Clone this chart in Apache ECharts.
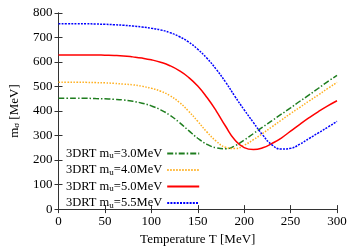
<!DOCTYPE html>
<html>
<head>
<meta charset="utf-8">
<script src="https://cdn.jsdelivr.net/npm/echarts@6/dist/echarts.min.js"></script>
<style>html,body{margin:0;padding:0;background:#fff}#c{width:358px;height:251px}</style>
</head>
<body>
<div id="c"></div>
<script>
const temps = [0,10,20,30,40,50,60,70,80,90,100,110,120,130,140,150,160,170,180,190,200,210,220,230,240,250,260,270,280,290,300];
const mu30 = [452,452,452,452,451,450,448,445,440,432,421,405,383,354,321,289,264,250,246,258,282,308,335,361,387,413,440,466,493,520,546];
const mu40 = [518,518,518,517,516,515,513,510,507,501,493,481,463,436,400,358,314,277,252,247,261,283,309,336,363,390,415,441,466,492,517];
const mu50 = [629,629,629,629,629,628,627,625,621,616,609,599,585,565,538,502,455,400,338,282,251,243,250,268,290,318,346,373,398,421,442];
const mu55 = [756,756,756,756,755,754,752,750,747,743,738,731,720,704,682,652,615,570,518,460,405,353,302,262,245,248,265,288,311,334,358];
const seriesNames = ['3DRT m_u=3.0MeV','3DRT m_u=4.0MeV','3DRT m_u=5.0MeV','3DRT m_u=5.5MeV'];
const xTicks = [0,50,100,150,200,250,300];
const yTicks = [0,100,200,300,400,500,600,700,800];

const serif = 'Liberation Serif';
const colors = ['#1e7d1e','#ffb020','#ff0000','#0000ff'];
const dashes = [[6,2,1.5,2],[1.5,1.5],'solid',[2,1.2]];
const vals = [mu30,mu40,mu50,mu55];

const chart = echarts.init(document.getElementById('c'), null, {renderer:'canvas'});
const axisCommon = {
  axisLine:{show:true,lineStyle:{color:'#333',width:1}},
  axisTick:{show:true,inside:true,length:4,lineStyle:{color:'#333'}},
  splitLine:{show:false}
};
chart.setOption({
  animation:false,
  grid:{left:57,right:21,top:13,bottom:38,containLabel:false},
  xAxis:[
    Object.assign({type:'value',min:0,max:300,interval:50,position:'bottom',
      name:'Temperature T [MeV]',nameLocation:'middle',nameGap:22,
      nameTextStyle:{fontFamily:serif,fontSize:13,color:'#000'},
      axisLabel:{fontFamily:serif,fontSize:13,color:'#000',margin:6}},axisCommon),
    Object.assign({type:'value',min:0,max:300,interval:50,position:'top',axisLabel:{show:false}},axisCommon)
  ],
  yAxis:[
    Object.assign({type:'value',min:0,max:800,interval:100,position:'left',
      name:'{m|m}{s|σ} [MeV]',nameLocation:'middle',nameGap:37,nameRotate:90,
      nameTextStyle:{fontFamily:serif,fontSize:13,color:'#000',
        rich:{m:{fontFamily:serif,fontSize:13,color:'#000'},s:{fontFamily:serif,fontSize:9,color:'#000',verticalAlign:'bottom',padding:[5,0,0,0]}}},
      axisLabel:{fontFamily:serif,fontSize:13,color:'#000',margin:6}},axisCommon),
    Object.assign({type:'value',min:0,max:800,interval:100,position:'right',axisLabel:{show:false}},axisCommon)
  ],
  legend:{
    orient:'vertical',left:61,top:142,align:'right',itemWidth:32,itemHeight:14,itemGap:3,
    data:seriesNames,
    itemStyle:{opacity:0},
    formatter:function(n){const p=n.split('m_u=');return p[0]+'m{s|u}='+p[1];},
    textStyle:{fontFamily:serif,fontSize:12.5,color:'#000',
      rich:{s:{fontFamily:serif,fontSize:9,color:'#000',verticalAlign:'bottom',padding:[5,0,0,0]}}}
  },
  series:vals.map((v,i)=>({
    name:seriesNames[i],type:'line',xAxisIndex:0,yAxisIndex:0,
    data:temps.map((t,j)=>[t,v[j]]),
    showSymbol:false,symbol:'none',smooth:0.5,
    lineStyle:{color:colors[i],width:1.5,type:dashes[i]},
    itemStyle:{color:colors[i]}
  }))
});
</script>
</body>
</html>
